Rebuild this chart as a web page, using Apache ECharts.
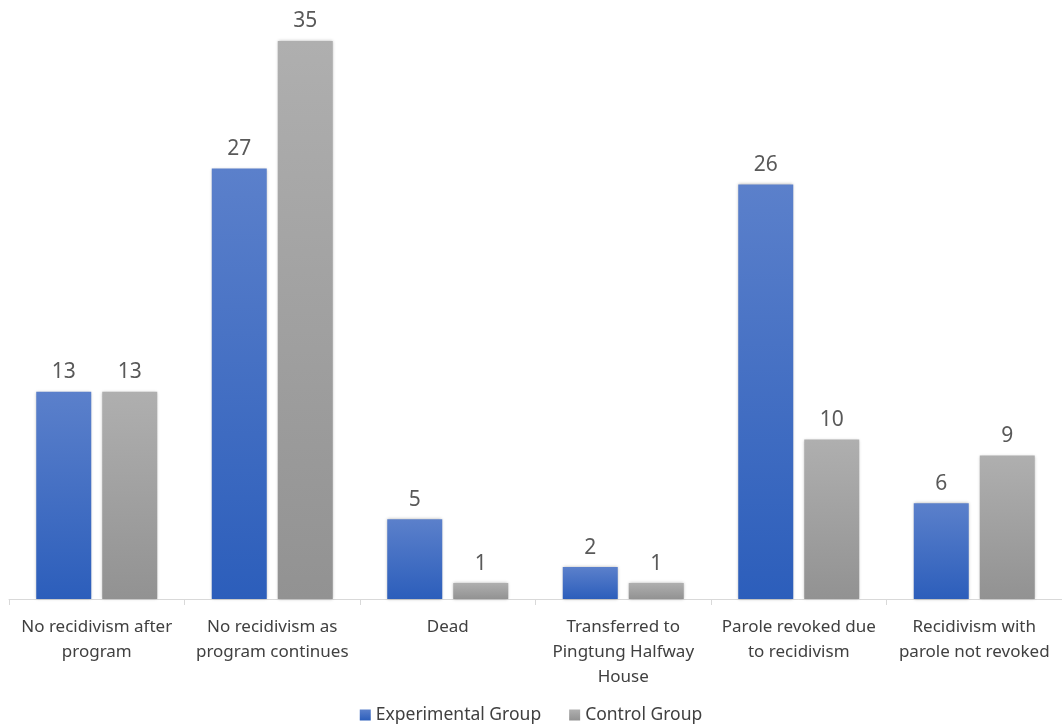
<!DOCTYPE html>
<html>
<head>
<meta charset="utf-8">
<script src="https://cdn.jsdelivr.net/npm/echarts@6/dist/echarts.min.js"></script>
<style>
	html, body { margin: 0; padding: 0; background: #fff; }
	#chart { width: 1062px; height: 728px; }
</style>
</head>
<body>
<div id="chart"></div>
<script>
var categories = ['No recidivism after\nprogram', 'No recidivism as\nprogram continues', 'Dead',
	'Transferred to\nPingtung Halfway\nHouse', 'Parole revoked due\nto recidivism', 'Recidivism with\nparole not revoked'];
var experimental = [13, 27, 5, 2, 26, 6];
var control = [13, 35, 1, 1, 10, 9];

var font = 'Noto Sans';

function grad(top, bottom) {
	return new echarts.graphic.LinearGradient(0, 0, 0, 1, [
		{ offset: 0, color: top },
		{ offset: 1, color: bottom }
	]);
}

var chart = echarts.init(document.getElementById('chart'));
chart.setOption({
	animation: false,
	textStyle: { fontFamily: font },
	grid: {
		left: 9,
		right: 0,
		top: 41,
		bottom: 129
	},
	legend: {
		bottom: -1,
		left: 'center',
		itemWidth: 11,
		itemHeight: 11,
		itemGap: 28,
		icon: 'rect',
		textStyle: { color: '#404040', fontSize: 17.5, fontFamily: font },
		data: ['Experimental Group', 'Control Group']
	},
	xAxis: {
		type: 'category',
		data: categories,
		axisLine: { lineStyle: { color: '#d9d9d9', width: 1 } },
		axisTick: { show: true, length: 6, lineStyle: { color: '#d9d9d9' } },
		axisLabel: {
			color: '#404040',
			fontSize: 17,
			lineHeight: 25,
			margin: 16,
			interval: 0
		}
	},
	yAxis: {
		type: 'value',
		min: 0,
		max: 35,
		show: false,
		splitLine: { show: false }
	},
	series: [{
		name: 'Experimental Group',
		type: 'bar',
		data: experimental,
		barWidth: 55,
		barGap: '20%',
		itemStyle: {
			color: grad('#5b80cb', '#2c5ebb'),
			shadowBlur: 3,
			shadowColor: 'rgba(0,0,0,0.3)'
		},
		label: {
			show: true,
			position: 'top',
			distance: 9,
			color: '#595959',
			fontSize: 21
		}
	}, {
		name: 'Control Group',
		type: 'bar',
		data: control,
		barWidth: 55,
		itemStyle: {
			color: grad('#afafaf', '#929292'),
			shadowBlur: 3,
			shadowColor: 'rgba(0,0,0,0.3)'
		},
		label: {
			show: true,
			position: 'top',
			distance: 9,
			color: '#595959',
			fontSize: 21
		}
	}]
});
</script>
</body>
</html>
